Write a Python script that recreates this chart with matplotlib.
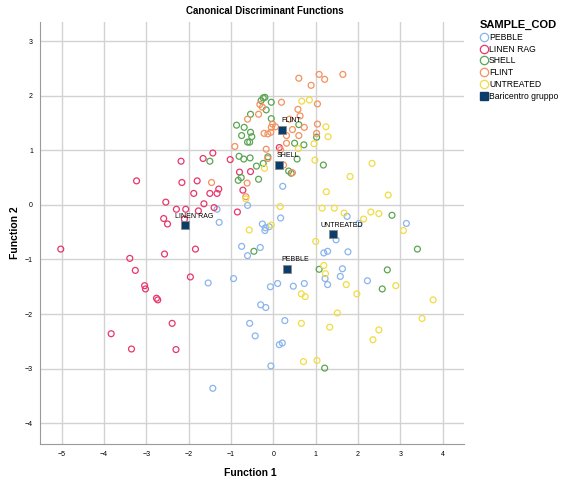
import numpy as np
from matplotlib import pyplot as plt
from matplotlib.lines import Line2D

plt.rcParams['font.family'] = ['Liberation Sans', 'DejaVu Sans']

# group names and colours
groups = ["PEBBLE", "LINEN RAG", "SHELL", "FLINT", "UNTREATED"]
colors = ["#8ab4ee", "#e8366a", "#5aa552", "#f4915f", "#f1dc44"]

pebble = [(-1.33, -0.08), (-1.28, -0.32), (-0.61, -0.01), (-0.26, -0.35), (-0.19, -0.42),
          (-0.20, -0.47), (-0.75, -0.76), (-0.61, -0.93), (-0.31, -0.78), (-1.54, -1.43),
          (-0.94, -1.35), (-0.30, -1.83), (-0.18, -1.88), (-0.56, -2.17), (-0.43, -2.40),
          (-0.06, -2.95), (-1.43, -3.36), (-0.07, -1.50), (0.22, 0.34), (0.17, -0.24),
          (1.74, -0.21), (2.02, -0.34), (3.14, -0.34), (1.48, -0.64), (1.19, -0.88),
          (1.28, -0.85), (1.76, -0.86), (1.63, -1.17), (1.58, -1.31), (1.22, -1.35),
          (1.28, -1.46), (2.22, -1.39), (0.10, -1.44), (0.47, -1.49), (0.73, -1.44),
          (0.27, -2.12), (0.14, -2.56), (0.21, -2.53), (-0.10, -0.40)]
linen_rag = [(-3.23, 0.44), (-2.18, 0.80), (-2.16, 0.41), (-1.80, 0.44), (-1.66, 0.85),
             (-1.43, 0.95), (-1.02, 0.83), (-1.88, 0.21), (-1.50, 0.21), (-1.33, 0.21),
             (-1.29, 0.29), (-1.64, 0.02), (-2.54, 0.05), (-0.80, 0.60), (-0.54, 0.61),
             (-0.72, 0.27), (-0.85, -0.13), (-2.29, -0.08), (-2.07, -0.08), (-1.40, -0.05),
             (-1.77, -0.11), (-2.59, -0.25), (-2.50, -0.35), (-2.10, -0.26), (-5.02, -0.81),
             (-3.39, -0.98), (-3.26, -1.20), (-3.04, -1.48), (-3.02, -1.54), (-2.76, -1.71),
             (-2.73, -1.74), (-2.57, -0.90), (-1.84, -0.81), (-1.96, -1.32), (-2.39, -2.17),
             (-3.83, -2.36), (-3.35, -2.64), (-2.30, -2.65), (0.14, 1.05)]
shell = [(-1.50, 0.80), (-0.87, 1.46), (-0.69, 1.42), (-0.75, 1.27), (-0.54, 1.33),
         (-0.51, 1.25), (-0.61, 1.15), (-0.56, 1.15), (-0.54, 1.66), (-0.29, 1.91),
         (-0.24, 1.96), (-0.20, 1.97), (-0.17, 1.74), (-0.81, 0.89), (-0.70, 0.84),
         (-0.55, 0.86), (-0.40, 0.71), (-0.76, 0.50), (-0.83, 0.45), (-0.35, 0.47),
         (-0.13, 0.88), (-0.05, 1.58), (-0.05, 1.88), (0.60, 1.47), (1.02, 1.24),
         (0.50, 1.13), (0.72, 1.10), (0.56, 0.84), (-0.24, 0.76), (1.18, 0.73),
         (0.36, 0.62), (0.42, 0.58), (2.80, -0.19), (-0.46, -0.85), (3.40, -0.81),
         (1.08, -1.18), (2.69, -1.19), (2.57, -1.54), (1.21, -2.99)]
flint = [(-0.91, 1.07), (-0.61, 1.57), (-0.35, 1.66), (-0.32, 1.84), (-0.26, 1.79),
         (-0.22, 1.31), (-0.13, 1.30), (-0.06, 1.33), (-0.17, 1.02), (-0.13, 0.85),
         (-0.62, 0.40), (-1.46, 0.41), (-0.65, 0.15), (0.60, 2.32), (1.08, 2.39),
         (1.21, 2.30), (1.64, 2.39), (0.89, 2.19), (0.19, 1.88), (1.04, 1.85),
         (0.58, 1.75), (0.63, 1.63), (0.38, 1.57), (-0.02, 1.48), (-0.05, 1.42),
         (0.05, 1.43), (0.45, 1.38), (0.73, 1.42), (1.04, 1.48), (1.02, 1.31),
         (0.31, 1.27), (0.60, 1.27), (0.31, 1.13), (0.17, 1.01), (0.24, 0.73),
         (0.45, 0.59)]
untreated = [(-0.21, 0.67), (-0.65, 0.11), (-0.57, -0.46), (0.67, 1.90), (0.85, 1.92),
             (1.24, 1.43), (1.29, 1.25), (0.96, 1.12), (0.59, 1.03), (0.98, 0.82),
             (2.33, 0.76), (1.81, 0.52), (1.25, 0.24), (2.71, 0.18), (0.16, -0.03),
             (1.15, -0.06), (1.44, -0.06), (1.67, -0.15), (2.30, -0.13), (2.49, -0.16),
             (2.13, -0.26), (3.07, -0.47), (-0.05, -0.37), (1.00, -0.67), (1.19, -1.11),
             (1.23, -1.26), (1.72, -1.46), (1.97, -1.63), (2.89, -1.48), (3.77, -1.74),
             (0.66, -1.63), (0.75, -1.68), (1.51, -1.98), (3.51, -2.08), (0.66, -2.17),
             (1.33, -2.24), (2.49, -2.29), (2.35, -2.47), (0.71, -2.87), (1.03, -2.85)]

centroid_x = [0.31, -2.09, 0.14, 0.20, 1.41]
centroid_y = [-1.17, -0.37, 0.73, 1.38, -0.54]

fig = plt.figure(figsize=(5.61, 4.86), dpi=100)
ax = fig.add_axes([40/561, 1-444/486, 424/561, 422/486])

for pts, c in zip([pebble, linen_rag, shell, flint, untreated], colors):
    p = np.array(pts)
    ax.scatter(p[:, 0], p[:, 1], s=18, facecolors='none', edgecolors=c, linewidths=0.9, zorder=3)

# group centroids
ax.scatter(centroid_x, centroid_y, marker='s', s=32, color='#0b3d6b',
           edgecolors='#8c8c8c', linewidths=0.6, zorder=4)
for name, cx, cy in zip(groups, centroid_x, centroid_y):
    ax.annotate(name, (cx, cy), xytext=(6.5, 4.0), textcoords='offset points',
                ha='center', va='bottom', fontsize=5, zorder=5)

ax.set_xlim(-5.51, 4.5)
ax.set_ylim(-4.38, 3.35)
ax.set_xticks(range(-5, 5))
ax.set_yticks(range(-4, 4))
ax.grid(True, color='#d2d2d2', linewidth=1.0)
ax.set_axisbelow(True)
ax.tick_params(length=0, labelsize=5, pad=5)
for s in ['top', 'right']:
    ax.spines[s].set_visible(False)
for s in ['left', 'bottom']:
    ax.spines[s].set_color('#9a9a9a')

ax.set_xlabel("Function 1", fontsize=7.5, fontweight='bold', va='center')
ax.set_ylabel("Function 2", fontsize=7.5, fontweight='bold', va='center')
ax.xaxis.set_label_coords((250 - 40) / 424, -(473 - 444) / 422)
ax.yaxis.set_label_coords(-(40 - 15) / 424, 0.5)
fig.text(265/561, 1-11/486, "Canonical Discriminant Functions", ha='center', va='center',
         fontsize=7, fontweight='bold')

handles = [Line2D([], [], marker='o', linestyle='none', markerfacecolor='none',
                  markeredgecolor=c, markersize=6, markeredgewidth=0.9) for c in colors]
handles.append(Line2D([], [], marker='s', linestyle='none', color='#0b3d6b', markersize=5.5))
leg = fig.legend(handles, groups + ["Baricentro gruppo"], loc='upper left',
                 bbox_to_anchor=(474/561, 1-14/486), frameon=False, fontsize=6.2,
                 title="SAMPLE_COD", title_fontproperties={'weight': 'bold', 'size': 8},
                 handletextpad=0.05, labelspacing=0.32, handlelength=1.0, borderpad=0.2)
leg._legend_box.align = 'left'

fig.savefig("out.png", dpi=100)
